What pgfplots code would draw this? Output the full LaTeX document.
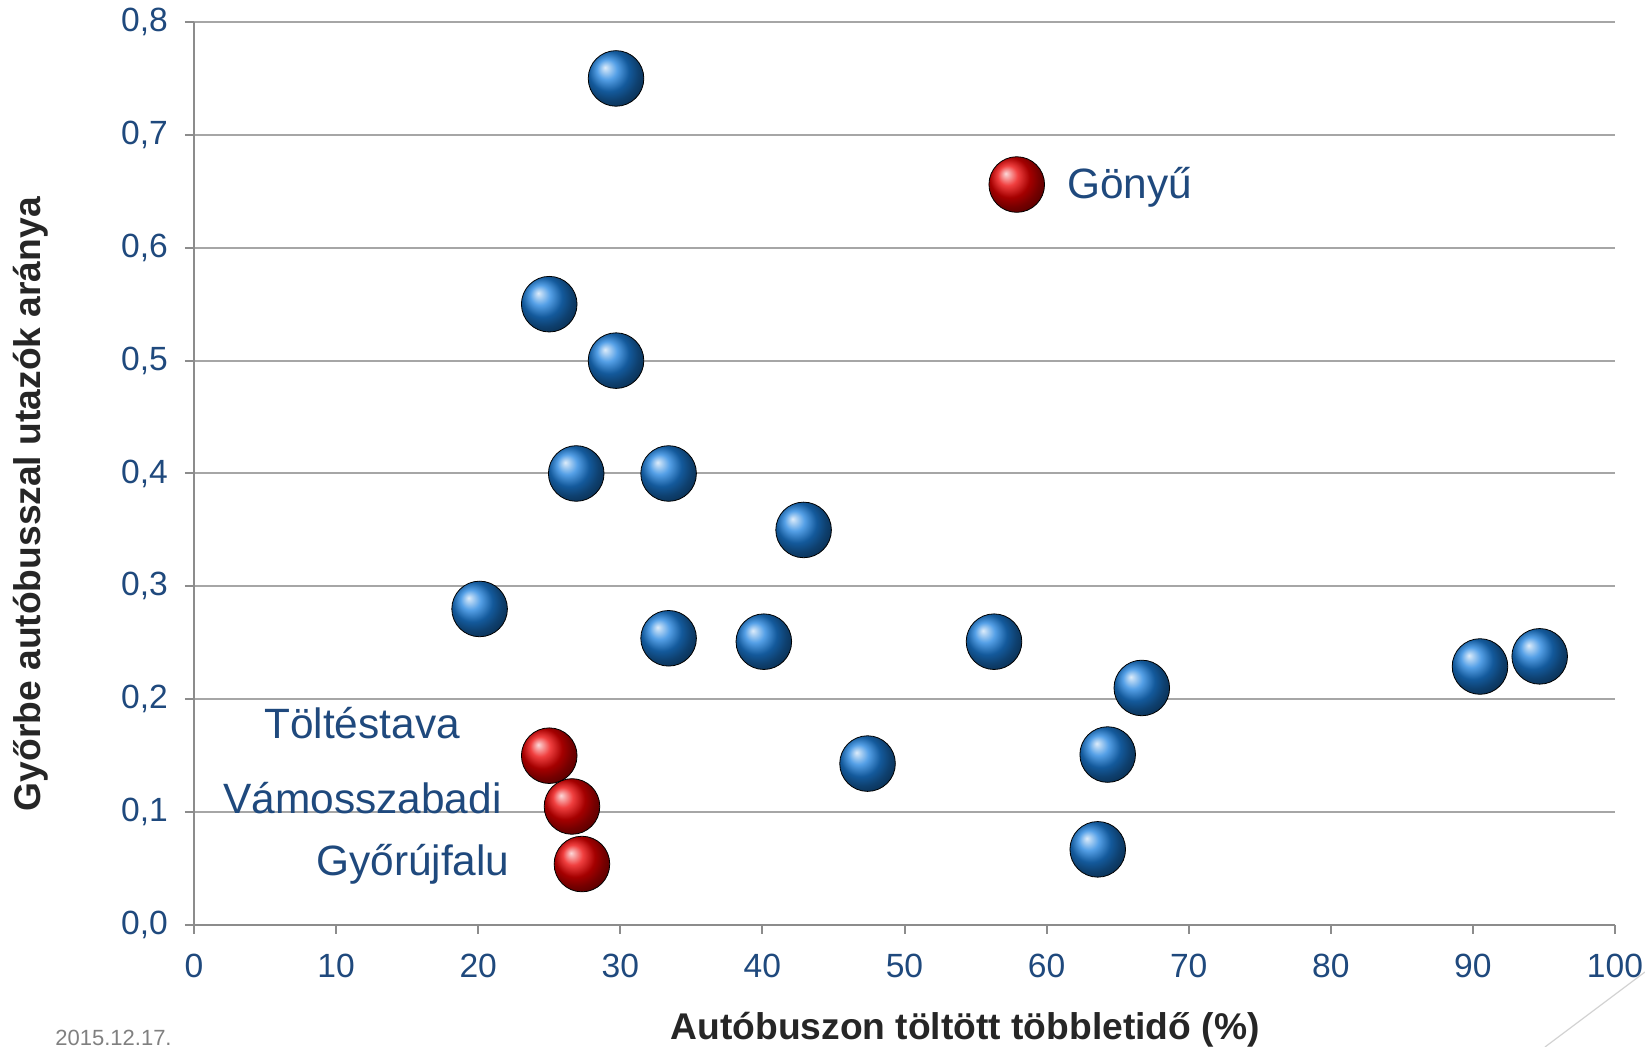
\documentclass[border=0pt]{standalone}
\usepackage{fontspec}
\setmainfont{Liberation Sans}
\usepackage{pgfplots}
\pgfplotsset{compat=1.18}
\definecolor{txtblue}{HTML}{1F497D}
\definecolor{gridgray}{HTML}{A6A6A6}
\definecolor{axgray}{HTML}{8C8C8C}
\definecolor{lblgray}{HTML}{262626}
\definecolor{ballblue}{RGB}{28,128,222}
\definecolor{ballred}{RGB}{235,0,0}
\begin{document}
\begin{tikzpicture}
\begin{axis}[
  at={(0,0)}, anchor=south west,
  scale only axis,
  width=710.5pt, height=451.5pt,
  xmin=0, xmax=100, ymin=0, ymax=0.8,
  axis lines*=left,
  axis line style={axgray, line width=1pt},
  tick align=outside,
  major tick length=4.5pt,
  tick style={axgray, line width=1pt},
  xtick={0,10,20,30,40,50,60,70,80,90,100},
  ytick={0,0.1,0.2,0.3,0.4,0.5,0.6,0.7,0.8},
  ymajorgrids,
  grid style={gridgray, line width=1pt},
  /pgf/number format/assume math mode=true,
  yticklabel style={/pgf/number format/use comma, /pgf/number format/fixed, /pgf/number format/fixed zerofill, /pgf/number format/precision=1, xshift=-5pt},
  xticklabel style={/pgf/number format/fixed, /pgf/number format/precision=0, yshift=-6.5pt},
  ticklabel style={font=\fontsize{16.8}{19}\selectfont, text=txtblue},
  xlabel={Autóbuszon töltött többletidő (\%)},
  ylabel={Győrbe autóbusszal utazók aránya},
  label style={font=\fontsize{18.6}{22}\selectfont\bfseries, text=lblgray},
  xlabel style={at={(axis description cs:0.5426,-0.1155)}, anchor=center},
  ylabel style={at={(axis description cs:-0.1147,0.466)}, anchor=center},
  clip=false,
]
\addplot[only marks, mark=ball, mark size=13.9pt, mark options={ball color=ballblue, draw=none}] coordinates {
(29.7,0.75) (25.0,0.55) (29.7,0.50) (26.9,0.40) (33.4,0.40) (42.9,0.35)
(20.1,0.28) (33.4,0.254) (40.1,0.251) (56.3,0.251) (66.7,0.21)
(90.5,0.229) (94.7,0.238) (47.4,0.143) (64.3,0.151) (63.6,0.067)
};
\addplot[only marks, mark=ball, mark size=13.9pt, mark options={ball color=ballred, draw=none}] coordinates {
(57.9,0.656) (25.0,0.15) (26.6,0.105) (27.3,0.054)
};
\begin{scope}[every node/.style={font=\fontsize{21.2}{25}\selectfont, text=txtblue, inner sep=0pt}]
\node[anchor=west] at (axis cs:57.9,0.656) [xshift=25pt, yshift=-1.5pt] {Gönyű};
\node[anchor=east] at (axis cs:25.0,0.15) [xshift=-44.5pt, yshift=16.5pt] {Töltéstava};
\node[anchor=east] at (axis cs:26.6,0.105) [xshift=-35pt, yshift=4.25pt] {Vámosszabadi};
\node[anchor=east] at (axis cs:27.3,0.054) [xshift=-36pt] {Győrújfalu};
\end{scope}
\end{axis}
\node[anchor=south west, inner sep=0pt, text=gray, font=\fontsize{11}{13}\selectfont] at (-69.5pt,-60.5pt) {2015.12.17.};
\draw[gray!35, line width=0.6pt] (675.5pt,-61pt) -- (725.5pt,-23.5pt);
\pgfresetboundingbox
\useasboundingbox (-97pt,-61pt) rectangle (725.5pt,462.5pt);
\end{tikzpicture}
\end{document}
